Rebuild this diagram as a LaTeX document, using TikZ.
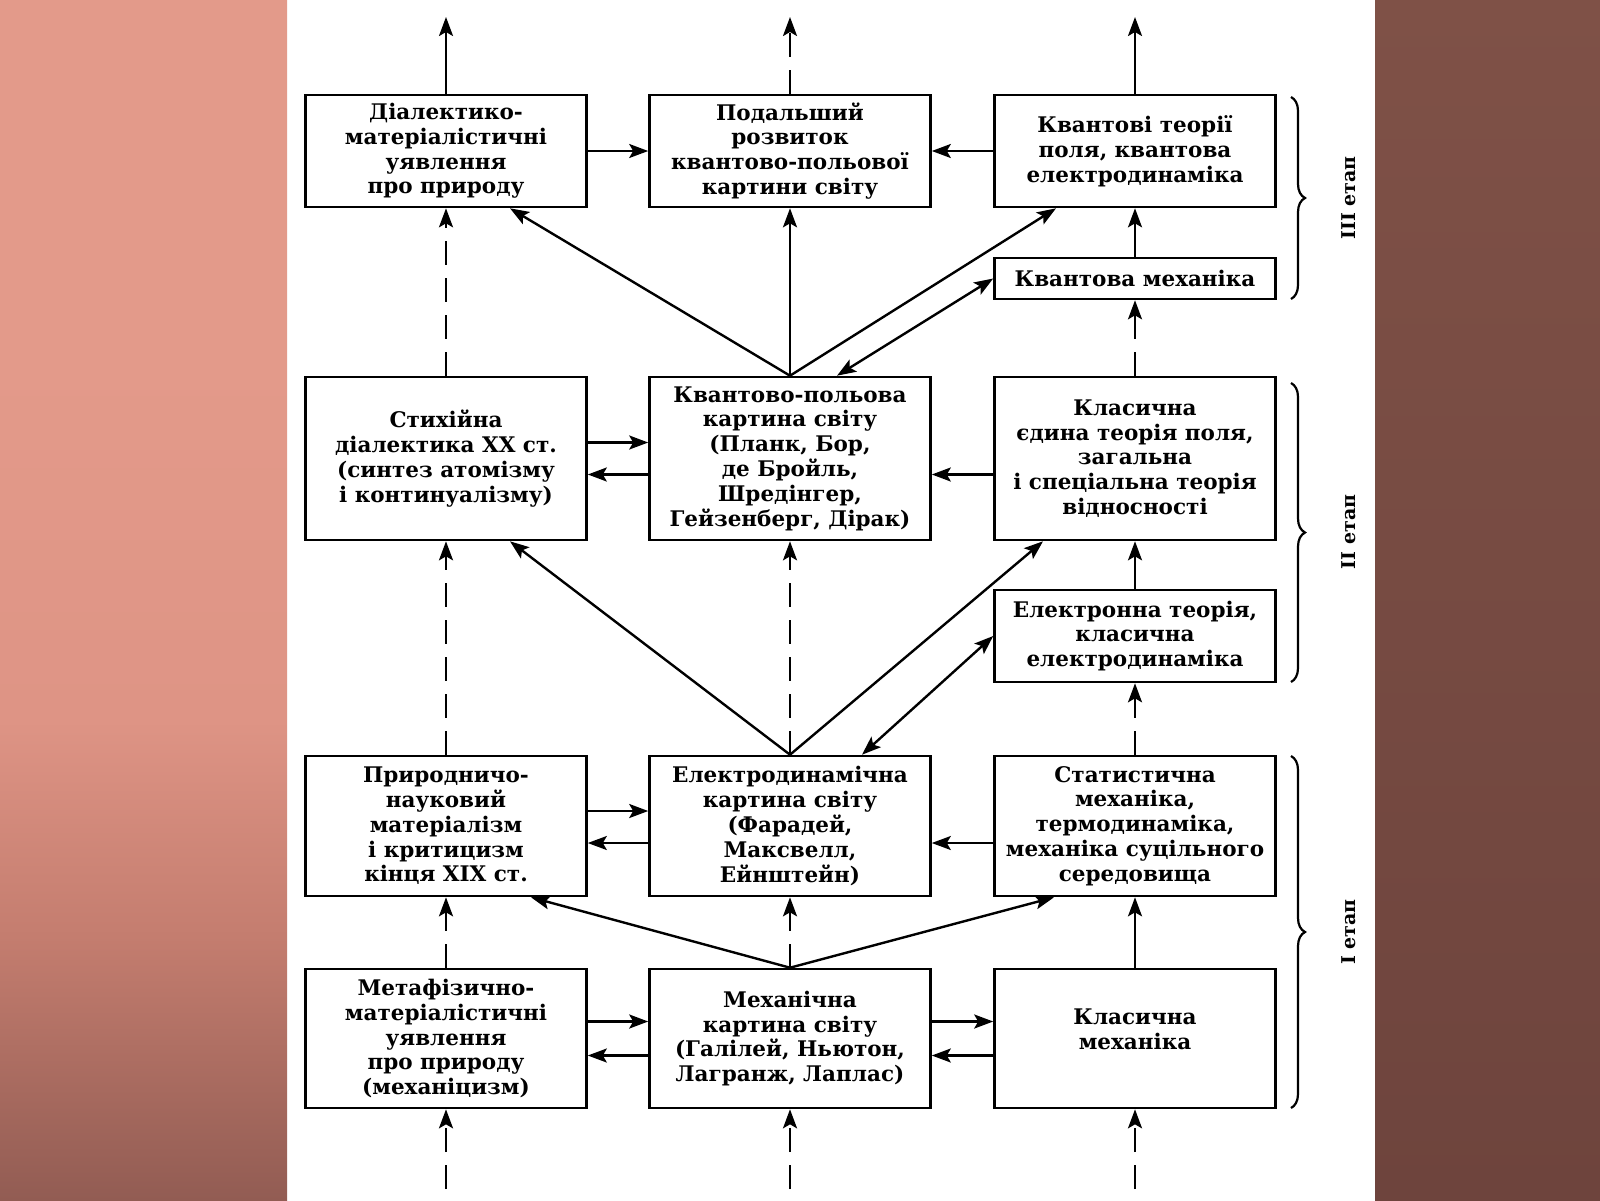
\documentclass[tikz,border=0pt]{standalone}
\usepackage{fontspec}
\setmainfont{DejaVu Serif}
\usetikzlibrary{arrows.meta,decorations.pathreplacing}

\definecolor{pinktop}{RGB}{227,154,138}
\definecolor{pinkmid}{RGB}{222,148,133}
\definecolor{pinklow}{RGB}{196,125,111}
\definecolor{pinkbot}{RGB}{146,92,83}
\definecolor{browntop}{RGB}{127,81,71}
\definecolor{brownbot}{RGB}{110,68,61}
\pgfdeclareverticalshading{leftpanel}{100bp}{color(0bp)=(pinkbot); color(25bp)=(pinkbot);
  color(36bp)=(pinklow); color(45bp)=(pinkmid); color(60bp)=(pinktop); color(100bp)=(pinktop)}

\tikzset{
  box/.style={draw, rectangle, line width=2.6pt, minimum width=281pt,
    inner sep=0pt, align=center, font=\fontsize{21.5}{24.8}\selectfont\bfseries},
  arr/.style={line width=2.4pt, -{Stealth[length=19pt,width=14pt,inset=4pt]}},
  darr/.style={arr, dash pattern=on 24pt off 13pt},
  both/.style={line width=2.4pt,
    {Stealth[length=19pt,width=14pt,inset=4pt]}-{Stealth[length=19pt,width=14pt,inset=4pt]}},
  brace/.style={decorate, decoration={brace, amplitude=14pt}, line width=2.2pt},
  stage/.style={rotate=90, font=\fontsize{19}{24.8}\selectfont\bfseries},
}

\begin{document}
\begin{tikzpicture}[x=1pt,y=-1pt]
      \useasboundingbox (0,0) rectangle (1600,1200);
      % background
      \fill[white] (0,0) rectangle (1600,1200);
      \shade[shading=leftpanel] (0,0) rectangle (287,1200);
      \shade[top color=browntop, bottom color=brownbot] (1375,0) rectangle (1600,1200);

      \path
        (446,151) node[box, minimum height=112pt] (dial){Діалектико-\\матеріалістичні\\уявлення\\про природу}
        (790,151) node[box, minimum height=112pt] (further){Подальший\\розвиток\\квантово-польової\\картини світу}
        (1135,151) node[box, minimum height=112pt] (qth){Квантові теорії\\поля, квантова\\електродинаміка}
        (1135,278.5) node[box, minimum height=41pt] (qmech){Квантова механіка}
        (446,458.5) node[box, minimum height=163pt] (spont){Стихійна\\діалектика XX ст.\\(синтез атомізму\\і континуалізму)}
        (790,458.5) node[box, minimum height=163pt] (qfield){Квантово-польова\\картина світу\\(Планк, Бор,\\де Бройль,\\Шредінгер,\\Гейзенберг, Дірак)}
        (1135,458.5) node[box, minimum height=163pt] (unified){Класична\\єдина теорія поля,\\загальна\\і спеціальна теорія\\відносності}
        (1135,636) node[box, minimum height=92pt] (electron){Електронна теорія,\\класична\\електродинаміка}
        (446,826) node[box, minimum height=140pt] (natmat){Природничо-\\науковий\\матеріалізм\\і критицизм\\кінця XIX ст.}
        (790,826) node[box, minimum height=140pt] (edyn){Електродинамічна\\картина світу\\(Фарадей,\\Максвелл,\\Ейнштейн)}
        (1135,826) node[box, minimum height=140pt] (stat){Статистична\\механіка,\\термодинаміка,\\механіка суцільного\\середовища}
        (446,1038.5) node[box, minimum height=139pt] (meta){Метафізично-\\матеріалістичні\\уявлення\\про природу\\(механіцизм)}
        (790,1038.5) node[box, minimum height=139pt] (mech){Механічна\\картина світу\\(Галілей, Ньютон,\\Лагранж, Лаплас)}
        (1135,1038.5) node[box, minimum height=139pt] (cmech){Класична\\механіка\\[-6pt]\mbox{}};
      \coordinate (topL) at (446,17);
      \coordinate (topM) at (790,17);
      \coordinate (topR) at (1135,17);
      \coordinate (botL) at (446,1189);
      \coordinate (botM) at (790,1189);
      \coordinate (botR) at (1135,1189);

      \begin{scope}
        % columns
        \draw[darr] (botL) -- (meta.south);
        \draw[darr] (botM) -- (mech.south);
        \draw[darr] (botR) -- (cmech.south);
        \draw[darr] (meta.north) -- (natmat.south);
        \draw[darr] (natmat.north) -- (spont.south);
        \draw[darr] (spont.north) -- (dial.south);
        \draw[arr] (dial.north) -- (topL);
        \draw[darr] (mech.north) -- (edyn.south);
        \draw[darr] (edyn.north) -- (qfield.south);
        \draw[arr] (qfield.north) -- (further.south);
        \draw[darr] (further.north) -- (topM);
        \draw[arr] (cmech.north) -- (stat.south);
        \draw[darr] (stat.north) -- (electron.south);
        \draw[arr] (electron.north) -- (unified.south);
        \draw[darr] (unified.north) -- (qmech.south);
        \draw[arr] (qmech.north) -- (qth.south);
        \draw[arr] (qth.north) -- (topR);
        % diagonals
        \draw[arr] (mech.north) -- ([xshift=85pt]natmat.south);
        \draw[arr] (mech.north) -- ([xshift=-81pt]stat.south);
        \draw[arr] (edyn.north) -- ([xshift=64pt]spont.south);
        \draw[arr] (edyn.north) -- ([xshift=-92pt]unified.south);
        \draw[both] ([xshift=72pt]edyn.north) -- (electron.west);
        \draw[arr] (qfield.north) -- ([xshift=64pt]dial.south);
        \draw[arr] (qfield.north) -- ([xshift=-79pt]qth.south);
        \draw[both] ([xshift=47pt]qfield.north) -- (qmech.west);
        % rows
        \draw[arr] (dial.east) -- (further.west);
        \draw[arr] (qth.west) -- (further.east);
        \draw[arr] ([yshift=16pt]spont.east) -- ([yshift=16pt]qfield.west);
        \draw[arr] ([yshift=-16pt]qfield.west) -- ([yshift=-16pt]spont.east);
        \draw[arr] ([yshift=-16pt]unified.west) -- ([yshift=-16pt]qfield.east);
        \draw[arr] ([yshift=15pt]natmat.east) -- ([yshift=15pt]edyn.west);
        \draw[arr] ([yshift=-17pt]edyn.west) -- ([yshift=-17pt]natmat.east);
        \draw[arr] ([yshift=-17pt]stat.west) -- ([yshift=-17pt]edyn.east);
        \draw[arr] ([yshift=17pt]meta.east) -- ([yshift=17pt]mech.west);
        \draw[arr] ([yshift=-17pt]mech.west) -- ([yshift=-17pt]meta.east);
        \draw[arr] ([yshift=17pt]mech.east) -- ([yshift=17pt]cmech.west);
        \draw[arr] ([yshift=-17pt]cmech.west) -- ([yshift=-17pt]mech.east);
      \end{scope}

      % stages
      \draw[brace] (1291,97) -- (1291,299);
      \draw[brace] (1291,383) -- (1291,682);
      \draw[brace] (1291,756) -- (1291,1108);
      \node[stage] (st3) at (1349,198) {III етап};
      \node[stage] (st2) at (1349,532) {II етап};
      \node[stage] (st1) at (1349,932) {I етап};
    \end{tikzpicture}
\end{document}
